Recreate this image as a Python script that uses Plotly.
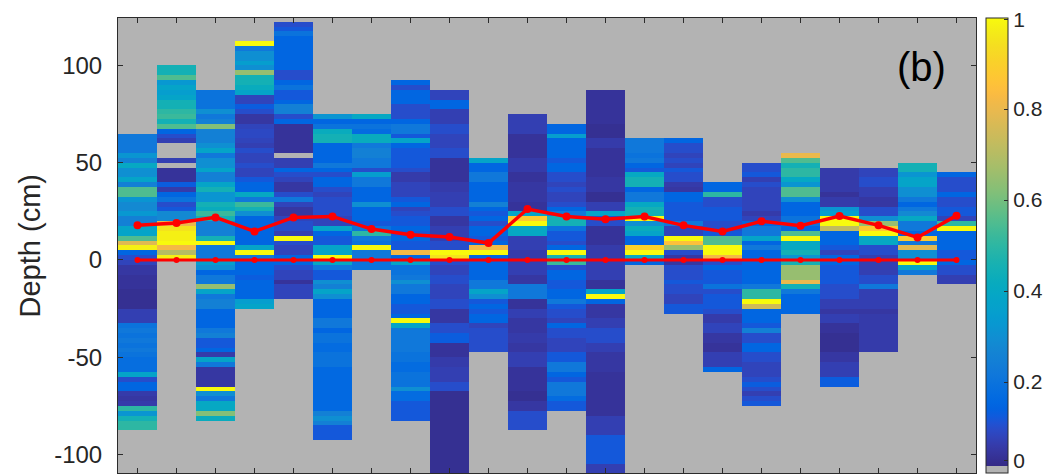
import numpy as np
import plotly.graph_objects as go

# ---------------- data ----------------
profiles = list(range(1, 23))
# top edge (cm) of each profile; cells are 2.5 cm thick going downward
col_tops = [65, 100, 87.5, 112.5, 122.5, 75, 75, 92.5, 87.5, 52.5, 75,
            70, 87.5, 62.5, 62.5, 40, 50, 55, 47.5, 47.5, 50, 45]
cell_size = 2.5

col01 = [0.22,0.22,0.22,0.22,0.32,0.25,0.4,0.3,0.3,0.38,
         0.25,0.55,0.55,0.32,0.28,0.28,0.33,0.25,0.25,0.38,
         0.38,0.55,0.78,0.98,0.15,0.1,0.08,0.05,0.05,0.04,
         0.04,0.04,0.03,0.03,0.03,0.03,0.07,0.07,0.07,0.2,
         0.22,0.2,0.22,0.2,0.22,0.2,0.18,0.18,0.18,0.38,
         0.1,0.15,0.15,0.06,0.05,0.06,0.5,0.32,0.45,0.5,
         0.5]
col02 = [0.45,0.45,0.55,0.33,0.38,0.35,0.38,0.45,0.45,0.5,
         0.52,0.45,0.55,0.15,0.1,0.07,0,0,0,0.07,
         0,0.04,0.04,0.04,0.13,0.06,0.15,0.2,0.1,0.12,
         0.28,0.28,0.8,0.95,0.98,0.98,1.0,0.82,0.7,0.98]
col03 = [0.2,0.2,0.2,0.2,0.3,0.22,0.25,0.62,0.25,0.25,
         0.25,0.3,0.38,0.22,0.3,0.3,0.38,0.25,0.25,0.38,
         0.45,0.32,0.32,0.45,0.42,0.52,0.45,0.25,0.25,0.25,
         0.45,1.0,0.22,0.22,0.22,0.35,0.3,0.15,0.22,0.22,
         0.65,0.38,0.22,0.25,0.25,0.15,0.15,0.15,0.15,0.22,
         0.25,0.12,0.12,0.15,0.06,0.38,0.22,0.05,0.05,0.05,
         0.05,1.0,0.3,0.22,0.4,0.4,0.62,0.42]
col04 = [1.0,0.22,0.3,0.3,0.35,0.3,0.65,0.45,0.45,0.42,
         0.38,0.08,0.08,0.13,0.1,0.05,0.05,0.08,0.09,0.09,
         0.08,0.07,0.1,0.08,0.08,0.1,0.08,0.08,0.12,0.15,
         0.15,0.4,0.22,0.52,0.45,0.3,0.15,0.15,0.15,0.15,
         0.15,0.15,0.38,1.0,0.22,0.15,0.15,0.15,0.13,0.15,
         0.15,0.15,0.15,0.35,0.38]
col05 = [0.1,0.12,0.2,0.15,0.15,0.15,0.15,0.15,0.15,0.15,
         0.1,0.1,0.15,0.2,0.12,0.12,0.15,0.25,0.25,0.1,
         0.15,0.04,0.04,0.04,0.04,0.04,0.04,0,0.07,0.07,
         0.15,0.1,0.08,0.05,0.05,0.1,0.22,0.08,0.05,0.05,
         0.08,0.1,0.1,0.07,1.0,0.1,0.08,0.08,0.15,0.15,
         0.1,0.08,0.08,0.04,0.08,0.08,0.08]
col06 = [0.32,0.15,0.2,0.42,0.45,0.45,0.15,0.15,0.15,0.15,
         0.22,0.15,0.1,0.15,0.15,0.1,0.08,0.1,0.1,0.1,
         0.1,0.08,0.08,0.38,0.15,0.12,0.12,0.38,0.38,1.0,
         0.4,0.22,0.12,0.12,0.3,0.25,0.38,0.3,0.15,0.15,
         0.15,0.15,0.22,0.22,0.15,0.2,0.2,0.17,0.17,0.2,
         0.2,0.2,0.16,0.16,0.16,0.16,0.16,0.16,0.16,0.16,
         0.16,0.25,0.3,0.25,0.12,0.12,0.12]
col07 = [0.4,0.15,0.2,0.17,0.42,0.42,0.22,0.25,0.25,0.22,
         0.22,0.1,0.35,0.22,0.22,0.15,0.15,0.15,0.3,0.15,
         0.15,0.15,0.12,0.2,0.5,0.22,0.2,1.0,0.22,0.22,
         0.2,0.2]
col08 = [0.15,0.1,0.15,0.15,0.15,0.1,0.1,0.1,0.15,0.22,
         0.22,0.12,0.38,0.15,0.12,0.12,0.12,0.12,0.1,0.06,
         0.06,0.08,0.08,0.08,0.12,0.15,0.08,0.1,0.12,0.12,
         0.15,0.12,0.15,0.12,0.12,0.82,0.15,0.38,0.2,0.2,
         0.22,0.3,0.22,0.22,0.15,0.15,0.12,0.12,0.15,1.0,
         0.38,0.22,0.22,0.22,0.22,0.22,0.2,0.2,0.17,0.17,
         0.2,0.2,0.2,0.3,0.17,0.17,0.12,0.12,0.12,0.12]
col09 = [0.08,0.08,0.15,0.15,0.07,0.07,0.07,0.1,0.1,0.08,
         0.08,0.08,0.1,0.1,0.04,0.04,0.04,0.04,0.04,0.06,
         0.06,0.07,0.07,0.07,0.1,0.1,0.05,0.05,0.07,0.07,
         0.07,0.1,0.1,1.0,0.95,0.1,0.08,0.08,0.1,0.1,
         0.08,0.08,0.08,0.1,0.1,0.05,0.05,0.05,0.1,0.1,
         0.13,0.13,0.04,0.04,0.04,0.06,0.06,0.07,0.07,0.07,
         0.1,0.1,0.03,0.03,0.03,0.03,0.03,0.03,0.03,0.03,
         0.03,0.03,0.03,0.03,0.03,0.03,0.03,0.03,0.03,0.03]
col10 = [0.38,0.15,0.15,0.22,0.22,0.15,0.15,0.15,0.15,0.25,
         0.15,0.12,0.15,0.1,0.15,0.15,0.12,0.15,0.82,1.0,
         0.15,0.15,0.15,0.15,0.15,0.22,0.22,0.38,0.3,0.12,
         0.15,0.12,0.15,0.15,0.08,0.1,0.1,0.1,0.1,0.1]
col11 = [0.07,0.07,0.07,0.07,0.04,0.04,0.04,0.04,0.04,0.06,
         0.06,0.06,0.04,0.04,0.05,0.05,0.05,0.05,0.04,0.04,
         0.38,0.88,1.0,0.4,0.4,0.07,0.07,0.07,0.06,0.06,
         0.07,0.07,0.07,0.05,0.05,0.22,0.22,0.22,0.04,0.04,
         0.07,0.07,0.05,0.05,0.05,0.06,0.06,0.05,0.05,0.07,
         0.07,0.07,0.04,0.04,0.04,0.04,0.04,0.03,0.03,0.05,
         0.05,0.1,0.1,0.1,0.1]
col12 = [0.15,0.15,0.35,0.15,0.15,0.15,0.15,0.12,0.15,0.15,
         0.1,0.1,0.08,0.1,0.08,0.08,0.1,0.15,0.22,0.45,
         0.45,0.2,0.12,0.12,0.1,0.15,1.0,0.45,0.52,0.1,
         0.15,0.15,0.12,0.12,0.15,0.15,0.22,0.12,0.1,0.1,
         0.08,0.15,0.1,0.1,0.08,0.08,0.08,0.12,0.12,0.22,
         0.22,0.15,0.12,0.22,0.22,0.22,0.17,0.12,0.12]
col13 = [0.04,0.04,0.04,0.04,0.04,0.04,0.04,0.03,0.03,0.03,
         0.06,0.06,0.04,0.04,0.04,0.04,0.04,0.04,0.05,0.05,
         0.05,0.03,0.03,0.07,0.07,0.38,0.1,0.1,0.04,0.04,
         0.04,0.04,0.06,0.06,0.06,0.07,0.07,0.07,0.07,0.04,
         0.04,0.38,1.0,0.15,0.05,0.05,0.05,0.07,0.07,0.1,
         0.1,0.1,0.07,0.07,0.05,0.05,0.05,0.05,0.04,0.04,
         0.04,0.04,0.04,0.04,0.04,0.04,0.04,0.07,0.07,0.07,
         0.07,0.12,0.12,0.12,0.12,0.12,0.12,0.07,0.07,0.07]
col14 = [0.22,0.22,0.22,0.2,0.22,0.15,0.12,0.4,0.45,0.45,
         0.15,0.22,0.22,0.4,0.45,0.45,1.0,0.3,0.42,0.38,
         0.15,0.15,0.9,1.0,0.4,0.15]
col15 = [0.15,0.1,0.1,0.08,0.1,0.08,0.12,0.1,0.1,0.06,
         0.05,0.15,0.15,0.12,0.12,0.12,0.12,0.22,0.08,0.08,
         1.0,0.85,0.65,0.1,0.05,0.05,0.1,0.1,0.1,0.12,
         0.1,0.1,0.08,0.08,0.12,0.12]
col16 = [0.15,0.15,0.5,0.1,0.1,0.12,0.12,0.12,0.1,0.1,
         0.12,0.55,0.55,1.0,1.0,0.82,0.1,0.15,0.12,0.12,
         0.12,0.2,0.1,0.12,0.12,0.12,0.1,0.06,0.06,0.08,
         0.08,0.05,0.05,0.04,0.04,0.07,0.07,0.07,0.15]
col17 = [0.1,0.1,0.12,0.07,0.1,0.08,0.08,0.08,0.08,0.08,
         0.06,0.08,0.15,0.22,0.22,0.38,0.15,0.22,0.15,0.15,
         0.15,0.15,0.15,0.15,0.15,0.22,0.5,0.5,1.0,0.75,
         0.15,0.15,0.15,0.12,0.25,0.1,0.1,0.15,0.15,0.1,
         0.1,0.08,0.08,0.08,0.1,0.13,0.1,0.07,0.1,0.12]
col18 = [0.8,0.55,0.45,0.5,0.5,0.4,0.32,0.55,0.55,0.3,
         0.15,0.15,0.15,0.2,0.2,0.15,0.55,1.0,0.4,0.4,
         0.45,0.32,0.45,0.65,0.65,0.65,0.8,0.45,0.22,0.15,
         0.15,0.15,0.15]
col19 = [0.06,0.06,0.06,0.06,0.06,0.04,0.06,0.06,0.32,0.35,
         1.0,1.0,0.72,0.15,0.15,0.15,0.12,0.08,0.15,0.15,
         0.12,0.12,0.12,0.12,0.1,0.1,0.1,0.07,0.07,0.05,
         0.07,0.07,0.04,0.04,0.03,0.03,0.03,0.03,0.05,0.05,
         0.07,0.07,0.07,0.13,0.13]
col20 = [0.08,0.08,0.1,0.1,0.07,0.07,0.05,0.05,0.1,0.1,
         0.3,0.65,0.88,1.0,0.4,0.4,0.1,0.1,0.07,0.07,
         0.07,0.07,0.1,0.1,0.22,0.07,0.07,0.07,0.07,0.05,
         0.06,0.06,0.06,0.06,0.06,0.06,0.06,0.06]
col21 = [0.45,0.45,0.32,0.38,0.38,0.3,0.3,0.22,0.15,0.22,
         0.28,0.4,0.22,0.22,0.15,0.88,0.22,0.78,0.3,0.3,
         1.0,0.38,0.22]
col22 = [0.15,0.1,0.1,0.1,0.15,0.1,0.1,0.12,0.12,0.08,
         0.5,1.0,0.15,0.15,0.15,0.15,0.12,0.12,0.15,0.1,
         0.1,0.07,0.07]

columns = [col01, col02, col03, col04, col05, col06, col07, col08, col09, col10, col11,
           col12, col13, col14, col15, col16, col17, col18, col19, col20, col21, col22]

# red lines (cm)
upper_depth = [17.8, 19.0, 21.9, 14.7, 21.9, 22.4, 15.9, 13.0, 11.8, 8.7, 26.2,
               22.4, 20.9, 22.4, 17.8, 14.7, 19.9, 17.6, 22.6, 17.8, 11.6, 22.8]
zero_depth = [0, 0, 0, 0, 0, 0, 0, 0, 0, 0, 0, 0, 0, 0, 0, 0, 0, 0, 0, 0, 0, 0]

y_ticks = [-100, -50, 0, 50, 100]
cbar_labels = ["0", "0.2", "0.4", "0.6", "0.8", "1"]
cbar_label_pos = [0.028, 0.2, 0.4, 0.6, 0.8, 0.996]

# ---------------- build grid ----------------
grid_top, grid_bottom = 125.0, -115.0
n_rows = int(round((grid_top - grid_bottom) / cell_size))
row_centers = grid_top - cell_size * (np.arange(n_rows) + 0.5)
z = np.full((n_rows, len(profiles)), np.nan)
for j, (top, vals) in enumerate(zip(col_tops, columns)):
    start = int(round((grid_top - top) / cell_size))
    for k, v in enumerate(vals):
        if 0 <= start + k < n_rows:
            z[start + k, j] = v

# ---------------- parula colormap with gray first level ----------------
parula = [
    [0.2081,0.1663,0.5292],[0.2116,0.1898,0.5777],[0.2123,0.2138,0.6270],[0.2081,0.2386,0.6771],
    [0.1959,0.2645,0.7279],[0.1707,0.2919,0.7792],[0.1253,0.3242,0.8303],[0.0591,0.3598,0.8683],
    [0.0117,0.3875,0.8820],[0.0060,0.4086,0.8828],[0.0165,0.4266,0.8786],[0.0329,0.4430,0.8720],
    [0.0498,0.4586,0.8641],[0.0629,0.4737,0.8554],[0.0723,0.4887,0.8467],[0.0779,0.5040,0.8384],
    [0.0793,0.5200,0.8312],[0.0749,0.5375,0.8263],[0.0641,0.5570,0.8240],[0.0488,0.5772,0.8228],
    [0.0343,0.5966,0.8199],[0.0265,0.6137,0.8135],[0.0239,0.6287,0.8038],[0.0231,0.6418,0.7913],
    [0.0228,0.6535,0.7768],[0.0267,0.6642,0.7607],[0.0384,0.6743,0.7436],[0.0590,0.6838,0.7254],
    [0.0843,0.6928,0.7062],[0.1133,0.7015,0.6859],[0.1453,0.7098,0.6646],[0.1801,0.7177,0.6424],
    [0.2178,0.7250,0.6193],[0.2586,0.7317,0.5954],[0.3022,0.7376,0.5712],[0.3482,0.7424,0.5473],
    [0.3953,0.7459,0.5244],[0.4420,0.7481,0.5033],[0.4871,0.7491,0.4840],[0.5300,0.7491,0.4661],
    [0.5709,0.7485,0.4494],[0.6099,0.7473,0.4337],[0.6473,0.7456,0.4188],[0.6834,0.7435,0.4044],
    [0.7184,0.7411,0.3905],[0.7525,0.7384,0.3768],[0.7858,0.7356,0.3633],[0.8185,0.7327,0.3498],
    [0.8507,0.7299,0.3360],[0.8824,0.7274,0.3217],[0.9139,0.7258,0.3063],[0.9450,0.7261,0.2886],
    [0.9739,0.7314,0.2666],[0.9938,0.7455,0.2403],[0.9990,0.7653,0.2164],[0.9955,0.7861,0.1967],
    [0.9880,0.8066,0.1794],[0.9789,0.8271,0.1633],[0.9697,0.8481,0.1475],[0.9626,0.8705,0.1309],
    [0.9589,0.8949,0.1132],[0.9598,0.9218,0.0948],[0.9661,0.9514,0.0755],[0.9763,0.9831,0.0538]]
gray = "rgb(179,179,179)"
first = 1.0 / 64
colorscale = [[0.0, gray], [first, gray]]
n = len(parula)
for i, (r, g, b) in enumerate(parula):
    pos = first + (1 - first) * i / (n - 1)
    colorscale.append([pos, f"rgb({int(r*255)},{int(g*255)},{int(b*255)})"])

FONT = "Liberation Sans, Arial, Helvetica, sans-serif"
AX = "#2b2b2b"

fig = go.Figure()
fig.add_trace(go.Heatmap(
    x=profiles, y=row_centers, z=z, zmin=0, zmax=1,
    colorscale=colorscale, hoverongaps=False,
    colorbar=dict(
        x=1.0117, xanchor="left", xpad=0, ypad=0,
        y=0.5, yanchor="middle", len=1.0, lenmode="fraction",
        thickness=22, thicknessmode="pixels",
        outlinewidth=1, outlinecolor=AX,
        tickvals=cbar_label_pos, ticktext=cbar_labels,
        ticks="inside", ticklen=4, tickcolor=AX,
        ticklabeloverflow="allow",
        tickfont=dict(family=FONT, size=21, color="#262626"),
    ),
))
fig.add_trace(go.Scatter(
    x=profiles, y=zero_depth, mode="lines+markers",
    line=dict(color="#ff0000", width=3), marker=dict(color="#ff0000", size=6),
    showlegend=False, hoverinfo="skip",
))
fig.add_trace(go.Scatter(
    x=profiles, y=upper_depth, mode="lines+markers",
    line=dict(color="#ff0000", width=3.5), marker=dict(color="#ff0000", size=8),
    showlegend=False, hoverinfo="skip",
))

fig.update_layout(
    width=1059, height=475,
    margin=dict(l=118, r=83, t=18, b=2),
    paper_bgcolor="white", plot_bgcolor=gray,
    showlegend=False,
    xaxis=dict(range=[0.5, 22.5], tickvals=profiles, showticklabels=False,
               ticks="inside", ticklen=5, tickcolor=AX, showgrid=False, zeroline=False,
               showline=True, linecolor=AX, linewidth=1, mirror="ticks"),
    yaxis=dict(range=[-109.5, 124.4], tickvals=y_ticks,
               ticktext=[str(t) for t in y_ticks],
               ticks="inside", ticklen=5, tickcolor=AX, showgrid=False, zeroline=False,
               showline=True, linecolor=AX, linewidth=1, mirror="ticks",
               tickfont=dict(family=FONT, size=24, color="#262626"),
               ticklabelstandoff=10),
    annotations=[
        dict(text="Depth (cm)", textangle=-90, xref="paper", yref="paper",
             x=-0.1026, y=0.5, xanchor="center", yanchor="middle", showarrow=False,
             font=dict(family=FONT, size=29, color="#262626")),
        dict(text="(b)", xref="paper", yref="paper", x=0.936, y=0.892,
             xanchor="center", yanchor="middle", showarrow=False,
             font=dict(family=FONT, size=40, color="black")),
    ],
)

fig.write_html("out.html")
